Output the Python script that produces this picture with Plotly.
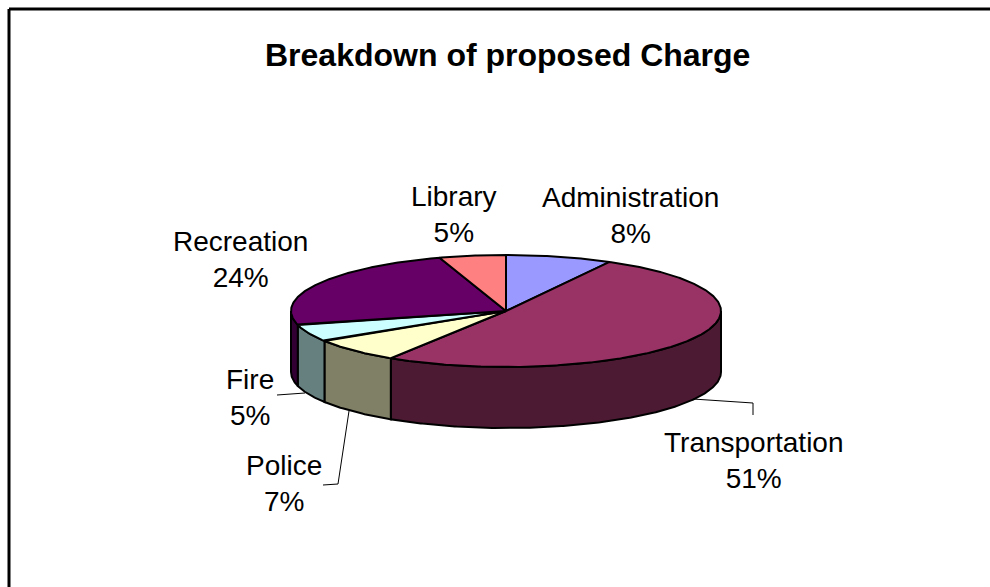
import numpy as np
import plotly.graph_objects as go

# Charge breakdown, clockwise from twelve o'clock
categories = ["Administration", "Transportation", "Police", "Fire", "Recreation", "Library"]
shares = [8, 51, 7, 5, 24, 5]
top_colours = ["#9999FF", "#993366", "#FFFFCC", "#CCFFFF", "#660066", "#FF8080"]
side_colours = ["#4D4D80", "#4D1A33", "#808066", "#668080", "#330033", "#804040"]
title_text = "Breakdown of proposed Charge"

# Label anchor (centre of the text block) for each slice
label_centres = {
    "Administration": (630, 215),
    "Transportation": (754, 460),
    "Police": (284, 483),
    "Fire": (250, 397),
    "Recreation": (240, 259),
    "Library": (454, 214),
}
# Leader lines joining outlying labels to their slices
leaders = {
    "Transportation": ([693, 753, 753], [399, 403, 415]),
    "Police": ([349, 338, 323], [411, 484, 485]),
    "Fire": ([277, 305], [395, 393]),
}

# Pie projection in page pixels
CX, CY, RX, RY, DEPTH = 506, 311, 215, 56, 61
FONT = "Liberation Sans, Arial, sans-serif"


def rim(start, end, drop=0.0):
    """Points along the pie rim between two clockwise angles, in radians."""
    t = np.linspace(start, end, max(3, int(np.degrees(end - start)) * 2))
    return CX + RX * np.sin(t), CY - RY * np.cos(t) + drop


fig = go.Figure()
edges = np.cumsum([0] + shares) / sum(shares) * 2 * np.pi

# Outer wall: only the part of each slice that faces the viewer
for name, colour, a, b in zip(categories, side_colours, edges[:-1], edges[1:]):
    lo, hi = max(a, np.pi / 2), min(b, 3 * np.pi / 2)
    if lo >= hi:
        continue
    xt, yt = rim(lo, hi)
    xb, yb = rim(lo, hi, DEPTH)
    fig.add_trace(go.Scatter(
        x=np.r_[xt, xb[::-1], xt[0]], y=np.r_[yt, yb[::-1], yt[0]],
        mode="lines", fill="toself", fillcolor=colour,
        line=dict(color="black", width=2), name=name + " wall", hoverinfo="skip",
    ))

# Top face wedges
for name, colour, value, a, b in zip(categories, top_colours, shares, edges[:-1], edges[1:]):
    xa, ya = rim(a, b)
    fig.add_trace(go.Scatter(
        x=np.r_[CX, xa, CX], y=np.r_[CY, ya, CY],
        mode="lines", fill="toself", fillcolor=colour,
        line=dict(color="black", width=2), name=name,
        hovertemplate=f"{name}: {value}%<extra></extra>",
    ))

for name, (lx, ly) in leaders.items():
    fig.add_trace(go.Scatter(
        x=lx, y=ly, mode="lines", line=dict(color="black", width=1),
        name=name + " leader", hoverinfo="skip",
    ))

for name, value in zip(categories, shares):
    x, y = label_centres[name]
    fig.add_annotation(
        x=x, y=y, xref="x", yref="y", text=f"{name}<br>{value}%", showarrow=False,
        font=dict(family=FONT, size=28, color="black"), align="center",
        xanchor="center", yanchor="middle",
    )

fig.add_annotation(
    x=507, y=55, xref="x", yref="y", text=f"<b>{title_text}</b>", showarrow=False,
    font=dict(family=FONT, size=32, color="black"), xanchor="center", yanchor="middle",
)

# Chart frame: only the top and left rules fall inside the page
fig.add_shape(type="line", x0=9, x1=990, y0=9, y1=9, line=dict(color="black", width=3))
fig.add_shape(type="line", x0=9, x1=9, y0=9, y1=587, line=dict(color="black", width=3))

fig.update_layout(
    width=990, height=587, margin=dict(l=0, r=0, t=0, b=0),
    paper_bgcolor="white", plot_bgcolor="white", showlegend=False,
    xaxis=dict(range=[0, 990], visible=False, fixedrange=True),
    yaxis=dict(range=[587, 0], visible=False, fixedrange=True),
)
fig.write_html("out.html", config={"displayModeBar": False})
